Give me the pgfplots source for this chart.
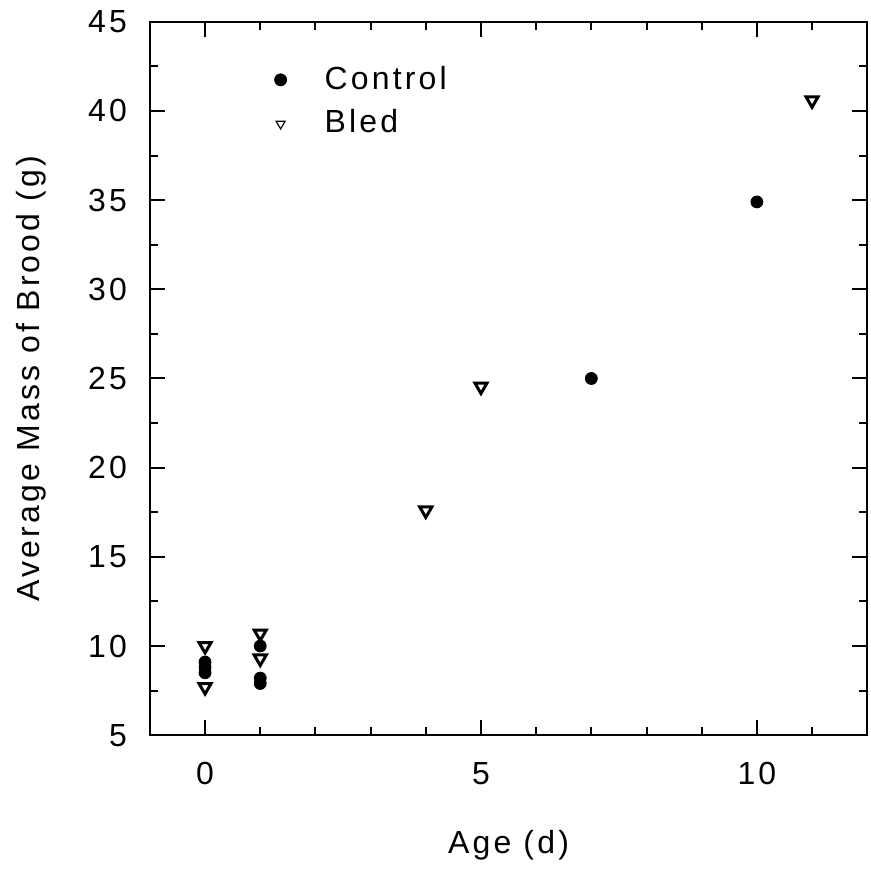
\documentclass[border=0pt]{standalone}
\usepackage{fontspec}
\setmainfont{Liberation Sans}[LetterSpace=10]
\usepackage{pgfplots}
\pgfplotsset{compat=1.18}

\pgfplotstableread{
x y
0 9.1
0 8.8
0 8.5
1 10.0
1 8.2
1 7.9
7 25.0
10 34.9
}\control

\pgfplotstableread{
x y
0 10.0
0 7.7
1 10.7
1 9.3
4 17.6
5 24.55
11 40.6
}\bled

\begin{document}
\fontsize{16}{19}\selectfont
\begin{tikzpicture}
\begin{axis}[
  name=ax,
  scale only axis,
  width=359pt, height=357pt,
  xmin=-1, xmax=12, ymin=5, ymax=45,
  xtick={0,5,10}, minor xtick={-1,...,12},
  ytick={5,10,...,45}, minor ytick={7.5,12.5,...,42.5},
  tick align=inside,
  major tick length=7.5pt, minor tick length=4pt,
  axis line style={line width=1pt},
  every tick/.style={line width=1pt, black},
  tick label style={font=\fontsize{16}{19}\selectfont},
  /pgf/number format/assume math mode=true,
  xticklabel style={yshift=-8pt},
  yticklabel style={xshift=-6pt},
  xlabel={Age (d)},
  ylabel={Average Mass of Brood (g)},
  xlabel style={yshift=-12pt},
  ylabel style={yshift=10pt},
  legend style={draw=none, fill=none, at={(0.165,0.95)}, anchor=north west,
    font=\fontsize{16}{19}\selectfont, row sep=4pt, column sep=17pt},
  legend cell align=left,
]
\addplot[only marks, mark=*, mark size=3pt, black] table {\control};
\addlegendentry{Control}
\addplot[only marks, mark=triangle*, mark size=3.5pt, forget plot,
  mark options={rotate=180, fill=white, draw=black, line width=1.5pt}] table {\bled};
\addlegendimage{only marks, mark=triangle*, mark size=2.6pt, mark options={rotate=180, fill=white, draw=black, line width=0.6pt}}
\addlegendentry{Bled}
\end{axis}
\path (ax.south west) ++(-75pt,-59.5pt);
\path (ax.north east) ++(1.5pt,9.5pt);
\end{tikzpicture}
\end{document}
